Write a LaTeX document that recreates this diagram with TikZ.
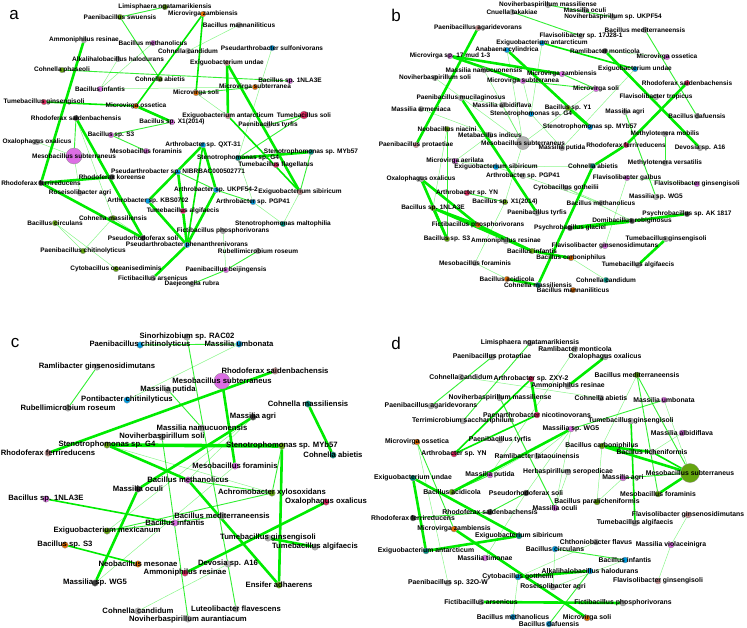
\documentclass[tikz,border=0pt]{standalone}
\usepackage{fontspec}
\newfontfamily\lbfamily{Liberation Sans}
\usetikzlibrary{backgrounds}

\definecolor{edgegreen}{RGB}{0,235,0}
\definecolor{cgreen}{RGB}{100,165,15}
\definecolor{cviolet}{RGB}{220,110,228}
\definecolor{corange}{RGB}{230,110,0}
\definecolor{cred}{RGB}{222,40,95}
\definecolor{cblue}{RGB}{0,155,225}
\definecolor{cteal}{RGB}{0,145,130}
\definecolor{crose}{RGB}{205,150,150}
\definecolor{cgray}{RGB}{178,178,178}
\definecolor{cdark}{RGB}{62,62,62}

\tikzset{every picture/.style={line width=0.75pt}}
\tikzset{
  dot/.style={circle, inner sep=0pt, minimum size=6pt, draw=black!45, line width=0.3pt},
  lbl/.style={inner sep=0pt, font=\lbfamily\bfseries\fontsize{6.6}{8}\selectfont},
  ngreen/.style={dot, fill=cgreen}, nviolet/.style={dot, fill=cviolet},
  norange/.style={dot, fill=corange}, nred/.style={dot, fill=cred},
  nblue/.style={dot, fill=cblue}, nteal/.style={dot, fill=cteal},
  nrose/.style={dot, fill=crose}, ngray/.style={dot, fill=cgray},
  ndark/.style={dot, fill=cdark},
  ew0/.style={draw=edgegreen, line width=0.5pt, opacity=0.45},
  ew1/.style={draw=edgegreen, line width=0.9pt, opacity=0.8},
  ew2/.style={draw=edgegreen, line width=1.6pt},
  ew3/.style={draw=edgegreen, line width=2.6pt},
  ew4/.style={draw=edgegreen, line width=3.6pt},
  panel/.style={inner sep=0pt, font=\lbfamily\fontsize{17}{18}\selectfont}
}

\begin{document}
\begin{tikzpicture}[x=1pt,y=-1pt]
\useasboundingbox (0,0) rectangle (747,627);

% Panel letters
\node[panel] (la) at (14,15) {a};
\node[panel] (lb) at (396,15) {b};
\node[panel] (lc) at (15,343) {c};
\node[panel] (ld) at (396,343) {d};

%Panel a
\begin{scope}[lbl/.style={inner sep=0pt, font=\lbfamily\bfseries\fontsize{6.5}{8}\selectfont}, dot/.append style={minimum size=5.5pt}]
\node[ngreen, label={[lbl]center:Limisphaera ngatamarikiensis}] (aLim) at (165,7) {};
\node[ngreen, label={[lbl]center:Paenibacillus swuensis}] (aPsw) at (120,17) {};
\node[norange, label={[lbl]center:Microvirga zambiensis}] (aMza) at (203,14) {};
\node[ngray, label={[lbl]center:Bacillus mannaniliticus}] (aBma) at (239,25) {};
\node[ngray, label={[lbl]center:Ammoniphilus resinae}] (aAre) at (84,40) {};
\node[nviolet, label={[lbl]center:Bacillus methanolicus}] (aBme) at (153,43) {};
\node[nblue, label={[lbl]center:Pseudarthrobacter sulfonivorans}] (aPsu) at (272,48) {};
\node[ngray, label={[lbl]center:Cohnella candidum}] (aCca) at (188,51) {};
\node[ngray, label={[lbl]center:Alkalihalobacillus halodurans}] (aAha) at (118,59) {};
\node[nrose, label={[lbl]center:Exiguobacterium undae}] (aEun) at (227,63) {};
\node[ngreen, label={[lbl]center:Cohnella phaseoli}] (aCph) at (62,70) {};
\node[ngreen, label={[lbl]center:Cohnella abietis}] (aCab) at (160,79) {};
\node[nviolet, label={[lbl]center:Bacillus sp. 1NLA3E}] (aB1N) at (290,81) {};
\node[norange, label={[lbl]center:Microvirga subterranea}] (aMsu) at (255,87) {};
\node[nviolet, label={[lbl]center:Bacillus infantis}] (aBin) at (100,89) {};
\node[norange, label={[lbl]center:Microvirga soli}] (aMso) at (196,93) {};
\node[nred, label={[lbl]center:Tumebacillus ginsengisoli}] (aTgi) at (44,102) {};
\node[norange, label={[lbl]center:Microvirga ossetica}] (aMos) at (136,106) {};
\node[nrose, label={[lbl]center:Exiguobacterium antarcticum}] (aEan) at (228,116) {};
\node[nred, minimum size=8pt, label={[lbl]center:Tumebacillus soli}] (aTso) at (304,115) {};
\node[ndark, label={[lbl]center:Rhodoferax saidenbachensis}] (aRsa) at (76,118) {};
\node[nviolet, label={[lbl]center:Bacillus sp. X1(2014)}] (aBX1) at (172,122) {};
\node[ngray, label={[lbl]center:Paenibacillus tyrfis}] (aPty) at (268,125) {};
\node[nviolet, label={[lbl]center:Bacillus sp. S3}] (aBS3) at (111,135) {};
\node[ngray, label={[lbl]center:Oxalophagus oxalicus}] (aOox) at (37,142) {};
\node[nblue, label={[lbl]center:Arthrobacter sp. QXT-31}] (aAQX) at (203,145) {};
\node[nviolet, label={[lbl]center:Mesobacillus foraminis}] (aMfo) at (146,151) {};
\node[nteal, label={[lbl]center:Stenotrophomonas sp. MYb57}] (aSMY) at (311,152) {};
\node[nviolet, minimum size=16pt, label={[lbl]center:Mesobacillus subterraneus}] (aMsb) at (74,156) {};
\node[nteal, label={[lbl]center:Stenotrophomonas sp. G4}] (aSG4) at (238,158) {};
\node[nred, label={[lbl]center:Tumebacillus flagellatus}] (aTfl) at (276,165) {};
\node[nblue, label={[lbl]center:Pseudarthrobacter sp. NIBRBAC000502771}] (aPNI) at (178,172) {};
\node[ndark, label={[lbl]center:Rhodoferax koreense}] (aRko) at (112,177) {};
\node[ndark, label={[lbl]center:Rhodoferax ferrireducens}] (aRfe) at (41,183) {};
\node[nblue, label={[lbl]center:Arthrobacter sp. UKPF54-2}] (aAUK) at (216,190) {};
\node[nrose, label={[lbl]center:Exiguobacterium sibiricum}] (aEsi) at (300,192) {};
\node[ngray, label={[lbl]center:Roseisolibacter agri}] (aRag) at (80,193) {};
\node[nblue, label={[lbl]center:Arthrobacter sp. KBS0702}] (aAKB) at (148,201) {};
\node[nblue, label={[lbl]center:Arthrobacter sp. PGP41}] (aAPG) at (253,202) {};
\node[nred, label={[lbl]center:Tumebacillus algifaecis}] (aTal) at (183,211) {};
\node[ngreen, label={[lbl]center:Cohnella massiliensis}] (aCma) at (113,218) {};
\node[ngreen, label={[lbl]center:Bacillus circulans}] (aBci) at (55,223) {};
\node[nteal, label={[lbl]center:Stenotrophomonas maltophilia}] (aSma) at (283,224) {};
\node[ngray, label={[lbl]center:Fictibacillus phosphorivorans}] (aFph) at (223,231) {};
\node[ndark, label={[lbl]center:Pseudorhodoferax soli}] (aPso) at (143,238) {};
\node[nblue, label={[lbl]center:Pseudarthrobacter phenanthrenivorans}] (aPph) at (187,245) {};
\node[ngreen, label={[lbl]center:Paenibacillus chitinolyticus}] (aPch) at (83,251) {};
\node[ngray, label={[lbl]center:Rubellimicrobium roseum}] (aRro) at (258,251) {};
\node[ngreen, label={[lbl]center:Cytobacillus oceanisediminis}] (aCoc) at (116,269) {};
\node[nviolet, label={[lbl]center:Paenibacillus beijingensis}] (aPbe) at (226,270) {};
\node[ngray, label={[lbl]center:Fictibacillus arsenicus}] (aFar) at (153,278) {};
\node[ngray, label={[lbl]center:Daejeonella rubra}] (aDru) at (192,284) {};

\begin{scope}[on background layer]
\draw[ew3] (aAre) -- (aRfe);
\draw[ew3] (aRsa) -- (aPso);
\draw[ew3] (aRfe) -- (aRko);
\draw[ew3] (aRfe) -- (aPso);
\draw[ew3] (aAKB) -- (aAQX);
\draw[ew3] (aAKB) -- (aPph);
\draw[ew3] (aAQX) -- (aAUK);
\draw[ew2] (aAQX) -- (aPph);
\draw[ew3] (aAUK) -- (aPph);
\draw[ew3] (aPNI) -- (aTal);
\draw[ew3] (aTal) -- (aPph);
\draw[ew3] (aPph) -- (aFar);
\draw[ew3] (aEun) -- (aEan);
\draw[ew3] (aEun) -- (aEsi);
\draw[ew2] (aEan) -- (aEsi);
\draw[ew3] (aSG4) -- (aSMY);
\draw[ew1] (aSMY) -- (aEsi);
\draw[ew2] (aMza) -- (aMso);
\draw[ew2] (aMza) -- (aMos);
\draw[ew3] (aMos) -- (aBX1);
\draw[ew1] (aLim) -- (aPsw);
\draw[ew1] (aPsw) -- (aCab);
\draw[ew2] (aTgi) -- (aMos);
\draw[ew1] (aCph) -- (aB1N);
\draw[ew0] (aBin) -- (aBme);
\draw[ew0] (aAha) -- (aBin);
\draw[ew0] (aBin) -- (aMsu);
\draw[ew1] (aMso) -- (aMsu);
\draw[ew0] (aMso) -- (aEan);
\draw[ew0] (aCca) -- (aBma);
\draw[ew0] (aPsu) -- (aSG4);
\draw[ew1] (aTso) -- (aPty);
\draw[ew1] (aTso) -- (aSG4);
\draw[ew1] (aBS3) -- (aBX1);
\draw[ew1] (aBS3) -- (aMfo);
\draw[ew0] (aOox) -- (aMsb);
\draw[ew0] (aMsb) -- (aRag);
\draw[ew1] (aRsa) -- (aMsb);
\draw[ew0] (aRsa) -- (aCma);
\draw[ew0] (aBci) -- (aPch);
\draw[ew0] (aBci) -- (aCoc);
\draw[ew0] (aCma) -- (aPch);
\draw[ew0] (aCma) -- (aPso);
\draw[ew1] (aPbe) -- (aRro);
\draw[ew1] (aPbe) -- (aDru);
\draw[ew0] (aPbe) -- (aFph);
\draw[ew0] (aAPG) -- (aSma);
\draw[ew0] (aEsi) -- (aSma);
\draw[ew1] (aAUK) -- (aAPG);
\draw[ew1] (aPNI) -- (aAUK);
\draw[ew0] (aAPG) -- (aSG4);
\end{scope}
\end{scope}

%Panel b
\begin{scope}[lbl/.style={inner sep=0pt, font=\lbfamily\bfseries\fontsize{6.5}{8}\selectfont}, dot/.append style={minimum size=5.5pt}]
\node[ngray, label={[lbl]center:Noviherbaspirillum massiliense}] (bNma) at (548,5) {};
\node[ngray, label={[lbl]center:Cnuella takakiae}] (bCta) at (512,12) {};
\node[ngray, label={[lbl]center:Massilia oculi}] (bMoc) at (585,10) {};
\node[ngray, label={[lbl]center:Noviherbaspirillum sp. UKPF54}] (bNUK) at (613,17) {};
\node[nrose, label={[lbl]center:Paenibacillus agaridevorans}] (bPag) at (478,28) {};
\node[ngray, label={[lbl]center:Bacillus mediterraneensis}] (bBme) at (645,30) {};
\node[ngray, label={[lbl]center:Flavisolibacter sp. 17J28-1}] (bF17) at (581,36) {};
\node[nblue, label={[lbl]center:Exiguobacterium antarcticum}] (bEan) at (542,43) {};
\node[nblue, label={[lbl]center:Anabaena cylindrica}] (bAcy) at (507,50) {};
\node[ndark, label={[lbl]center:Ramlibacter monticola}] (bRmo) at (605,51) {};
\node[nviolet, label={[lbl]center:Microvirga sp. 17 mud 1-3}] (bM17) at (450,56) {};
\node[nviolet, label={[lbl]center:Microvirga ossetica}] (bMos) at (667,57) {};
\node[nblue, label={[lbl]center:Exiguobacterium undae}] (bEun) at (635,69) {};
\node[ngray, label={[lbl]center:Massilia namucuonensis}] (bMna) at (484,70) {};
\node[nviolet, label={[lbl]center:Microvirga zambiensis}] (bMza) at (562,74) {};
\node[ngray, label={[lbl]center:Noviherbaspirillum soli}] (bNso) at (435,78) {};
\node[nviolet, label={[lbl]center:Microvirga subterranea}] (bMsu) at (523,81) {};
\node[nred, label={[lbl]center:Rhodoferax saidenbachensis}] (bRsa) at (687,83) {};
\node[nviolet, label={[lbl]center:Microvirga soli}] (bMso) at (596,89) {};
\node[ngray, label={[lbl]center:Flavisolibacter tropicus}] (bFtr) at (656,97) {};
\node[ngray, label={[lbl]center:Paenibacillus mucilaginosus}] (bPmu) at (461,98) {};
\node[ngray, label={[lbl]center:Massilia albidiflava}] (bMal) at (502,105) {};
\node[ngreen, label={[lbl]center:Bacillus sp. Y1}] (bBY1) at (568,108) {};
\node[ngray, label={[lbl]center:Massilia armeniaca}] (bMar) at (421,109) {};
\node[ngray, label={[lbl]center:Massilia agri}] (bMag) at (625,112) {};
\node[nblue, label={[lbl]center:Stenotrophomonas sp. G4}] (bSG4) at (531,114) {};
\node[ngray, label={[lbl]center:Bacillus dafuensis}] (bBda) at (697,116) {};
\node[nblue, label={[lbl]center:Stenotrophomonas sp. MYb57}] (bSMY) at (590,127) {};
\node[ngreen, label={[lbl]center:Neobacillus niacini}] (bNni) at (447,129) {};
\node[ngray, label={[lbl]center:Methylotenera mobilis}] (bMmo) at (665,134) {};
\node[ngray, label={[lbl]center:Metabacillus indicus}] (bMin) at (490,135) {};
\node[ngray, minimum size=13pt, label={[lbl]center:Mesobacillus subterraneus}] (bMsb) at (523,143) {};
\node[nrose, label={[lbl]center:Paenibacillus protaetiae}] (bPpr) at (416,145) {};
\node[nred, label={[lbl]center:Rhodoferax ferrireducens}] (bRfe) at (626,145) {};
\node[ngray, label={[lbl]center:Massilia putida}] (bMpu) at (562,148) {};
\node[ngray, label={[lbl]center:Devosia sp. A16}] (bDev) at (700,148) {};
\node[nviolet, label={[lbl]center:Microvirga aerilata}] (bMae) at (455,161) {};
\node[ngray, label={[lbl]center:Methylotenera versatilis}] (bMve) at (665,163) {};
\node[nteal, label={[lbl]center:Cohnella abietis}] (bCab) at (593,166) {};
\node[nblue, label={[lbl]center:Exiguobacterium sibiricum}] (bEsi) at (496,167) {};
\node[ngray, label={[lbl]center:Arthrobacter sp. PGP41}] (bAPG) at (523,176) {};
\node[nviolet, label={[lbl]center:Flavisolibacter galbus}] (bFga) at (627,178) {};
\node[ngray, label={[lbl]center:Oxalophagus oxalicus}] (bOox) at (421,179) {};
\node[nviolet, label={[lbl]center:Flavisolibacter ginsengisoli}] (bFgi) at (697,184) {};
\node[ngray, label={[lbl]center:Cytobacillus gotheilii}] (bCgo) at (566,188) {};
\node[nred, label={[lbl]center:Arthrobacter sp. YN}] (bAYN) at (467,193) {};
\node[ngray, label={[lbl]center:Massilia sp. WG5}] (bMWG) at (656,197) {};
\node[ngreen, label={[lbl]center:Bacillus sp. X1(2014)}] (bBX1) at (505,202) {};
\node[ngray, label={[lbl]center:Bacillus methanolicus}] (bBmt) at (601,203) {};
\node[ngreen, label={[lbl]center:Bacillus sp. 1NLA3E}] (bB1N) at (433,208) {};
\node[ngray, label={[lbl]center:Paenibacillus tyrfis}] (bPty) at (537,213) {};
\node[ndark, label={[lbl]center:Psychrobacillus sp. AK 1817}] (bPAK) at (687,214) {};
\node[ndark, label={[lbl]center:Domibacillus robiginosus}] (bDro) at (632,221) {};
\node[norange, label={[lbl]center:Fictibacillus phosphorivorans}] (bFph) at (478,225) {};
\node[ndark, label={[lbl]center:Psychrobacillus glaciei}] (bPgl) at (570,228) {};
\node[ngreen, label={[lbl]center:Bacillus sp. S3}] (bBS3) at (447,239) {};
\node[ngray, label={[lbl]center:Tumebacillus ginsengisoli}] (bTgi) at (666,239) {};
\node[ngray, label={[lbl]center:Ammoniphilus resinae}] (bAre) at (506,241) {};
\node[nviolet, label={[lbl]center:Flavisolibacter ginsenosidimutans}] (bFgs) at (605,246) {};
\node[ngreen, label={[lbl]center:Bacillus infantis}] (bBin) at (532,251) {};
\node[norange, label={[lbl]center:Bacillus carboniphilus}] (bBca) at (571,258) {};
\node[ngray, label={[lbl]center:Mesobacillus foraminis}] (bMfo) at (475,263) {};
\node[ngray, label={[lbl]center:Tumebacillus algifaecis}] (bTal) at (638,265) {};
\node[norange, label={[lbl]center:Bacillus acidicola}] (bBac) at (507,279) {};
\node[nteal, label={[lbl]center:Cohnella candidum}] (bCca) at (606,280) {};
\node[nteal, label={[lbl]center:Cohnella massiliensis}] (bCma) at (538,285) {};
\node[norange, label={[lbl]center:Bacillus mannaniliticus}] (bBmn) at (573,290) {};

\begin{scope}[on background layer]
\draw[ew3] (bPag) -- (bPpr);
\draw[ew3] (bAcy) -- (bSMY);
\draw[ew3] (bBY1) -- (bSMY);
\draw[ew3] (bM17) -- (bMza);
\draw[ew3] (bM17) -- (bMsu);
\draw[ew1] (bMsu) -- (bMso);
\draw[ew1] (bMza) -- (bMso);
\draw[ew2] (bEan) -- (bEun);
\draw[ew1] (bCta) -- (bF17);
\draw[ew1] (bNma) -- (bNUK);
\draw[ew3] (bRmo) -- (bDev);
\draw[ew3] (bRsa) -- (bRfe);
\draw[ew3] (bRfe) -- (bCab);
\draw[ew3] (bCab) -- (bCma);
\draw[ew1] (bBme) -- (bBda);
\draw[ew1] (bMag) -- (bMWG);
\draw[ew1] (bMmo) -- (bMve);
\draw[ew3] (bPmu) -- (bPty);
\draw[ew3] (bB1N) -- (bFph);
\draw[ew3] (bB1N) -- (bBS3);
\draw[ew3] (bB1N) -- (bBin);
\draw[ew3] (bFph) -- (bBin);
\draw[ew3] (bOox) -- (bBS3);
\draw[ew3] (bOox) -- (bFph);
\draw[ew1] (bAYN) -- (bBX1);
\draw[ew0] (bBX1) -- (bMfo);
\draw[ew3] (bCma) -- (bBac);
\draw[ew3] (bBin) -- (bBca);
\draw[ew4] (bPgl) -- (bDro);
\draw[ew3] (bDro) -- (bPAK);
\draw[ew3] (bTgi) -- (bTal);
\draw[ew0] (bFga) -- (bFgi);
\draw[ew0] (bFga) -- (bFgs);
\draw[ew0] (bCgo) -- (bBmt);
\draw[ew0] (bCgo) -- (bDro);
\draw[ew0] (bBmt) -- (bAPG);
\draw[ew0] (bBca) -- (bCca);
\draw[ew1] (bNni) -- (bBS3);
\draw[ew0] (bNni) -- (bB1N);
\draw[ew0] (bMae) -- (bEsi);
\draw[ew0] (bEsi) -- (bAPG);
\draw[ew0] (bEsi) -- (bCab);
\draw[ew0] (bMna) -- (bMsb);
\draw[ew0] (bMsu) -- (bSG4);
\draw[ew0] (bMal) -- (bMsb);
\draw[ew0] (bSG4) -- (bMpu);
\draw[ew0] (bMso) -- (bMsb);
\draw[ew0] (bNso) -- (bMsb);
\draw[ew0] (bMar) -- (bMin);
\draw[ew0] (bEun) -- (bMpu);
\draw[ew0] (bMos) -- (bRmo);
\draw[ew0] (bEan) -- (bSG4);
\draw[ew0] (bMin) -- (bMae);
\draw[ew0] (bAcy) -- (bMsb);
\draw[ew0] (bPmu) -- (bMal);
\draw[ew0] (bMsb) -- (bBX1);
\draw[ew0] (bFph) -- (bAre);
\draw[ew0] (bMfo) -- (bBac);
\end{scope}
\end{scope}

%Panel c
\begin{scope}[lbl/.style={inner sep=0pt, font=\lbfamily\bfseries\fontsize{7.7}{9}\selectfont}, dot/.append style={minimum size=6.5pt}]
\node[ngray, label={[lbl]center:Sinorhizobium sp. RAC02}] (cSRA) at (187,337) {};
\node[nblue, label={[lbl]center:Paenibacillus chitinolyticus}] (cPch) at (140,345) {};
\node[nblue, label={[lbl]center:Massilia umbonata}] (cMum) at (239,344) {};
\node[ngray, label={[lbl]center:Ramlibacter ginsenosidimutans}] (cRgi) at (97,367) {};
\node[nrose, label={[lbl]center:Rhodoferax saidenbachensis}] (cRsa) at (275,371) {};
\node[nviolet, minimum size=16pt, label={[lbl]center:Mesobacillus subterraneus}] (cMsb) at (222,381) {};
\node[ngray, label={[lbl]center:Massilia putida}] (cMpu) at (168,390) {};
\node[nblue, label={[lbl]center:Pontibacter chitinilyticus}] (cPon) at (127,400) {};
\node[ngray, label={[lbl]center:Rubellimicrobium roseum}] (cRro) at (68,408) {};
\node[nteal, label={[lbl]center:Cohnella massiliensis}] (cCma) at (308,404) {};
\node[ndark, label={[lbl]center:Massilia agri}] (cMag) at (253,417) {};
\node[ngray, label={[lbl]center:Massilia namucuonensis}] (cMna) at (202,428) {};
\node[ngray, label={[lbl]center:Noviherbaspirillum soli}] (cNso) at (162,437) {};
\node[ngreen, label={[lbl]center:Stenotrophomonas sp. G4}] (cSG4) at (107,445) {};
\node[ngreen, label={[lbl]center:Stenotrophomonas sp. MYb57}] (cSMY) at (282,446) {};
\node[nrose, label={[lbl]center:Rhodoferax ferrireducens}] (cRfe) at (48,453) {};
\node[nteal, label={[lbl]center:Cohnella abietis}] (cCab) at (333,455) {};
\node[nviolet, label={[lbl]center:Mesobacillus foraminis}] (cMfo) at (235,466) {};
\node[nviolet, label={[lbl]center:Bacillus methanolicus}] (cBme) at (188,480) {};
\node[ndark, label={[lbl]center:Massilia oculi}] (cMoc) at (138,489) {};
\node[ngreen, label={[lbl]center:Achromobacter xylosoxidans}] (cAxy) at (272,493) {};
\node[nviolet, label={[lbl]center:Bacillus sp. 1NLA3E}] (cB1N) at (46,499) {};
\node[nred, label={[lbl]center:Oxalophagus oxalicus}] (cOox) at (326,502) {};
\node[ngray, label={[lbl]center:Bacillus mediterraneensis}] (cBmd) at (222,516) {};
\node[nviolet, label={[lbl]center:Bacillus infantis}] (cBin) at (175,523) {};
\node[ngreen, label={[lbl]center:Exiguobacterium mexicanum}] (cEme) at (107,531) {};
\node[ngray, label={[lbl]center:Tumebacillus ginsengisoli}] (cTgi) at (268,538) {};
\node[norange, label={[lbl]center:Bacillus sp. S3}] (cBS3) at (65,545) {};
\node[ngray, label={[lbl]center:Tumebacillus algifaecis}] (cTal) at (315,547) {};
\node[norange, label={[lbl]center:Neobacillus mesonae}] (cNme) at (138,564) {};
\node[ngray, label={[lbl]center:Devosia sp. A16}] (cDev) at (228,564) {};
\node[nred, label={[lbl]center:Ammoniphilus resinae}] (cAre) at (185,573) {};
\node[ndark, label={[lbl]center:Massilia sp. WG5}] (cMWG) at (95,583) {};
\node[ngreen, label={[lbl]center:Ensifer adhaerens}] (cEad) at (279,585) {};
\node[ngray, label={[lbl]center:Luteolibacter flavescens}] (cLfl) at (236,609) {};
\node[ngray, label={[lbl]center:Cohnella candidum}] (cCca) at (138,611) {};
\node[ngray, label={[lbl]center:Noviherbaspirillum aurantiacum}] (cNau) at (188,619) {};

\begin{scope}[on background layer]
\draw[ew1] (cPch) -- (cMum);
\draw[ew1] (cSRA) -- (cLfl);
\draw[ew0] (cMum) -- (cPon);
\draw[ew1] (cRgi) -- (cRro);
\draw[ew3] (cRsa) -- (cRfe);
\draw[ew3] (cMsb) -- (cMfo);
\draw[ew1] (cMpu) -- (cMna);
\draw[ew3] (cCma) -- (cCab);
\draw[ew4] (cSG4) -- (cSMY);
\draw[ew3] (cSG4) -- (cBme);
\draw[ew3] (cBme) -- (cEad);
\draw[ew0] (cSG4) -- (cAxy);
\draw[ew3] (cSMY) -- (cEad);
\draw[ew1] (cSMY) -- (cAxy);
\draw[ew3] (cMag) -- (cMoc);
\draw[ew3] (cMoc) -- (cMWG);
\draw[ew0] (cMag) -- (cEme);
\draw[ew1] (cNso) -- (cNau);
\draw[ew3] (cTgi) -- (cTal);
\draw[ew1] (cBme) -- (cAxy);
\draw[ew2] (cB1N) -- (cBin);
\draw[ew1] (cEme) -- (cAxy);
\draw[ew1] (cEme) -- (cBmd);
\draw[ew2] (cBS3) -- (cNme);
\draw[ew3] (cOox) -- (cAre);
\draw[ew0] (cDev) -- (cCca);
\draw[ew0] (cMWG) -- (cMfo);
\draw[ew0] (cMag) -- (cBme);
\end{scope}
\end{scope}

%Panel d
\begin{scope}[lbl/.style={inner sep=0pt, font=\lbfamily\bfseries\fontsize{6.85}{8}\selectfont}]
\node[ngray, label={[lbl]center:Limisphaera ngatamarikiensis}] (dLim) at (530,343) {};
\node[ngray, label={[lbl]center:Ramlibacter monticola}] (dRmo) at (575,349) {};
\node[ngray, label={[lbl]center:Paenibacillus protaetiae}] (dPpr) at (492,357) {};
\node[ngray, label={[lbl]center:Oxalophagus oxalicus}] (dOox) at (605,357) {};
\node[ngreen, label={[lbl]center:Bacillus mediterraneensis}] (dBmd) at (637,375) {};
\node[ngray, label={[lbl]center:Cohnella candidum}] (dCca) at (461,377) {};
\node[nred, label={[lbl]center:Arthrobacter sp. ZXY-2}] (dAZX) at (531,379) {};
\node[ngray, label={[lbl]center:Ammoniphilus resinae}] (dAre) at (568,386) {};
\node[ngray, label={[lbl]center:Noviherbaspirillum massiliense}] (dNma) at (500,398) {};
\node[ngray, label={[lbl]center:Cohnella abietis}] (dCab) at (601,398) {};
\node[nviolet, label={[lbl]center:Massilia umbonata}] (dMum) at (664,400) {};
\node[ngray, label={[lbl]center:Paenibacillus agaridevorans}] (dPag) at (431,406) {};
\node[nred, label={[lbl]center:Paenarthrobacter nicotinovorans}] (dPni) at (537,415) {};
\node[ngray, label={[lbl]center:Terrimicrobium sacchariphilum}] (dTsa) at (463,421) {};
\node[ngray, label={[lbl]center:Tumebacillus ginsengisoli}] (dTgi) at (631,421) {};
\node[nviolet, label={[lbl]center:Massilia sp. WG5}] (dMWG) at (571,429) {};
\node[nviolet, label={[lbl]center:Massilia albidiflava}] (dMal) at (682,433) {};
\node[ngray, label={[lbl]center:Paenibacillus tyrfis}] (dPty) at (500,440) {};
\node[norange, label={[lbl]center:Microvirga ossetica}] (dMos) at (417,442) {};
\node[ngreen, label={[lbl]center:Bacillus carboniphilus}] (dBca) at (602,446) {};
\node[ngray, label={[lbl]center:Bacillus licheniformis}] (dBli) at (652,452) {};
\node[nred, label={[lbl]center:Arthrobacter sp. YN}] (dAYN) at (454,454) {};
\node[ngray, label={[lbl]center:Ramlibacter lataouinensis}] (dRla) at (537,456) {};
\node[ngray, label={[lbl]center:Herbaspirillum seropedicae}] (dHse) at (568,472) {};
\node[ngreen, minimum size=19pt, label={[lbl]center:Mesobacillus subterraneus}] (dMsb) at (690,473) {};
\node[nviolet, label={[lbl]center:Massilia putida}] (dMpu) at (490,475) {};
\node[nviolet, label={[lbl]center:Massilia agri}] (dMag) at (623,478) {};
\node[nteal, label={[lbl]center:Exiguobacterium undae}] (dEun) at (413,478) {};
\node[ngreen, label={[lbl]center:Bacillus acidicola}] (dBac) at (452,492) {};
\node[ndark, label={[lbl]center:Pseudorhodoferax soli}] (dPso) at (526,493) {};
\node[ngreen, label={[lbl]center:Mesobacillus foraminis}] (dMfo) at (658,494) {};
\node[ngreen, label={[lbl]center:Bacillus paralicheniformis}] (dBpa) at (597,502) {};
\node[nviolet, label={[lbl]center:Massilia oculi}] (dMoc) at (555,508) {};
\node[ndark, label={[lbl]center:Rhodoferax saidenbachensis}] (dRsa) at (490,512) {};
\node[nrose, label={[lbl]center:Flavisolibacter ginsenosidimutans}] (dFgs) at (688,515) {};
\node[ndark, label={[lbl]center:Rhodoferax ferrireducens}] (dRfe) at (413,518) {};
\node[ngray, label={[lbl]center:Tumebacillus algifaecis}] (dTal) at (635,523) {};
\node[norange, label={[lbl]center:Microvirga zambiensis}] (dMza) at (454,529) {};
\node[nteal, label={[lbl]center:Exiguobacterium sibiricum}] (dEsi) at (519,536) {};
\node[ngray, label={[lbl]center:Chthoniobacter flavus}] (dCfl) at (596,542) {};
\node[nviolet, label={[lbl]center:Massilia violaceinigra}] (dMvi) at (671,545) {};
\node[nblue, label={[lbl]center:Bacillus circulans}] (dBci) at (555,549) {};
\node[nteal, label={[lbl]center:Exiguobacterium antarcticum}] (dEan) at (426,551) {};
\node[nviolet, label={[lbl]center:Massilia timonae}] (dMti) at (485,558) {};
\node[nblue, label={[lbl]center:Bacillus infantis}] (dBin) at (625,560) {};
\node[nblue, label={[lbl]center:Alkalihalobacillus halodurans}] (dAha) at (590,571) {};
\node[nblue, label={[lbl]center:Cytobacillus gottheilii}] (dCgo) at (518,577) {};
\node[ngray, label={[lbl]center:Paenibacillus sp. 32O-W}] (dP32) at (448,583) {};
\node[nrose, label={[lbl]center:Flavisolibacter ginsengisoli}] (dFgi) at (658,581) {};
\node[ngray, label={[lbl]center:Roseisolibacter agri}] (dRag) at (553,587) {};
\node[ngray, label={[lbl]center:Fictibacillus arsenicus}] (dFar) at (481,602) {};
\node[ngray, label={[lbl]center:Fictibacillus phosphorivorans}] (dFph) at (623,603) {};
\node[nblue, label={[lbl]center:Bacillus methanolicus}] (dBme) at (513,617) {};
\node[norange, label={[lbl]center:Microvirga soli}] (dMso) at (587,618) {};
\node[nblue, label={[lbl]center:Bacillus dafuensis}] (dBda) at (549,624) {};

\begin{scope}[on background layer]
\draw[ew1] (dLim) -- (dTsa);
\draw[ew1] (dPpr) -- (dPag);
\draw[ew0] (dRmo) -- (dMpu);
\draw[ew3] (dOox) -- (dAre);
\draw[ew0] (dCca) -- (dCab);
\draw[ew3] (dAZX) -- (dPni);
\draw[ew2] (dAZX) -- (dAYN);
\draw[ew2] (dPni) -- (dAYN);
\draw[ew1] (dNma) -- (dMoc);
\draw[ew3] (dMWG) -- (dBac);
\draw[ew1] (dMWG) -- (dMum);
\draw[ew0] (dMWG) -- (dMpu);
\draw[ew0] (dMWG) -- (dPso);
\draw[ew0] (dMWG) -- (dMoc);
\draw[ew0] (dMWG) -- (dRla);
\draw[ew1] (dBmd) -- (dMsb);
\draw[ew1] (dBmd) -- (dMfo);
\draw[ew0] (dBmd) -- (dBca);
\draw[ew2] (dTgi) -- (dTal);
\draw[ew3] (dBca) -- (dBli);
\draw[ew3] (dBca) -- (dMsb);
\draw[ew2] (dBli) -- (dMsb);
\draw[ew0] (dMal) -- (dBli);
\draw[ew0] (dBca) -- (dBpa);
\draw[ew3] (dMsb) -- (dMfo);
\draw[ew1] (dMsb) -- (dMag);
\draw[ew0] (dMsb) -- (dMum);
\draw[ew0] (dFgs) -- (dMvi);
\draw[ew0] (dMvi) -- (dFgi);
\draw[ew3] (dEun) -- (dEan);
\draw[ew3] (dEun) -- (dEsi);
\draw[ew3] (dEan) -- (dEsi);
\draw[ew1] (dRfe) -- (dRsa);
\draw[ew1] (dRsa) -- (dPso);
\draw[ew3] (dMza) -- (dMso);
\draw[ew1] (dMos) -- (dMza);
\draw[ew1] (dBac) -- (dMpu);
\draw[ew0] (dPso) -- (dMti);
\draw[ew1] (dBci) -- (dBin);
\draw[ew0] (dBci) -- (dRag);
\draw[ew3] (dAha) -- (dCgo);
\draw[ew1] (dAha) -- (dBda);
\draw[ew0] (dCfl) -- (dCgo);
\draw[ew3] (dFar) -- (dFph);
\draw[ew0] (dCgo) -- (dBme);
\draw[ew0] (dMos) -- (dP32);
\draw[ew0] (dMag) -- (dBpa);
\draw[ew0] (dHse) -- (dMoc);
\draw[ew0] (dBin) -- (dRag);
\end{scope}
\end{scope}
\end{tikzpicture}
\end{document}
